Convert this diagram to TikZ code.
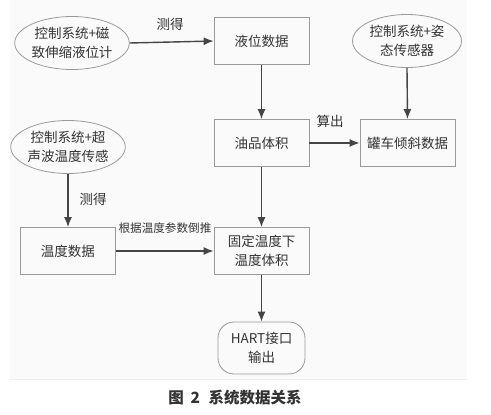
\documentclass[tikz,border=0pt]{standalone}
\usepackage{fontspec}
\usetikzlibrary{shapes.geometric,arrows.meta}
\newfontfamily\cjk{Noto Sans CJK SC}
\definecolor{arr}{HTML}{454545}
\definecolor{bd}{HTML}{9A9A9A}
\definecolor{txt}{HTML}{333333}
\tikzset{
  x=1pt,y=-1pt,
  every node/.style={font=\cjk\fontsize{13.5}{19}\selectfont, text=txt, align=center, inner sep=0pt},
  databox/.style={draw=bd, line width=0.8pt, minimum width=95pt, minimum height=47pt},
  srcell/.style={ellipse, draw=bd, line width=0.8pt, minimum width=109pt, minimum height=53pt},
  outbox/.style={draw=bd, line width=0.8pt, rounded corners=16pt, minimum width=87pt, minimum height=52pt},
  flow/.style={draw=arr, line width=1.4pt, -{Latex[length=10pt,width=8pt]}},
  lbl/.style={font=\cjk\fontsize{13.5}{16}\selectfont},
}
\begin{document}
\begin{tikzpicture}
\useasboundingbox (0,0) rectangle (491,415);
\fill[black!2] (10,0) rectangle (467,379);
\draw[black!6, line width=0.6pt] (10,379) -- (467,379);

\node[srcell] (e1) at (72,43) {控制系统+磁\\致伸缩液位计};
\node[srcell] (e2) at (68,147) {控制系统+超\\声波温度传感};
\node[srcell] (e3) at (407,41) {控制系统+姿\\态传感器};

\node[databox] (liq) at (261.5,41) {液位数据};
\node[databox] (oil) at (261.5,143) {油品体积};
\node[databox] (tilt) at (407.5,143) {罐车倾斜数据};
\node[databox] (temp) at (68,251) {温度数据};
\node[databox] (fix) at (261.5,251) {固定温度下\\温度体积};
\node[outbox] (hart) at (261.5,348) {HART接口\\输出};

\draw[flow] (e1.east) -- (liq.west);
\draw[flow] (liq.south) -- (oil.north);
\draw[flow] (e3.south) -- (tilt.north);
\draw[flow] (oil.east) -- (tilt.west);
\draw[flow] (e2.south) -- (temp.north);
\draw[flow] (temp.east) -- (fix.west);
\draw[flow] (oil.south) -- (fix.north);
\draw[flow] (fix.south) -- (hart.north);

\node[lbl] (l1) at (170,24) {测得};
\node[lbl] (l2) at (330,121) {算出};
\node[lbl] (l3) at (93,199) {测得};
\node[font=\cjk\fontsize{11.6}{14}\selectfont] (l4) at (165,228) {根据温度参数倒推};

\node[font=\cjk\bfseries\fontsize{15.5}{18}\selectfont, text=txt] (cap) at (235,398) {图\hspace{0.45em}2\hspace{0.55em}系统数据关系};
\end{tikzpicture}
\end{document}
